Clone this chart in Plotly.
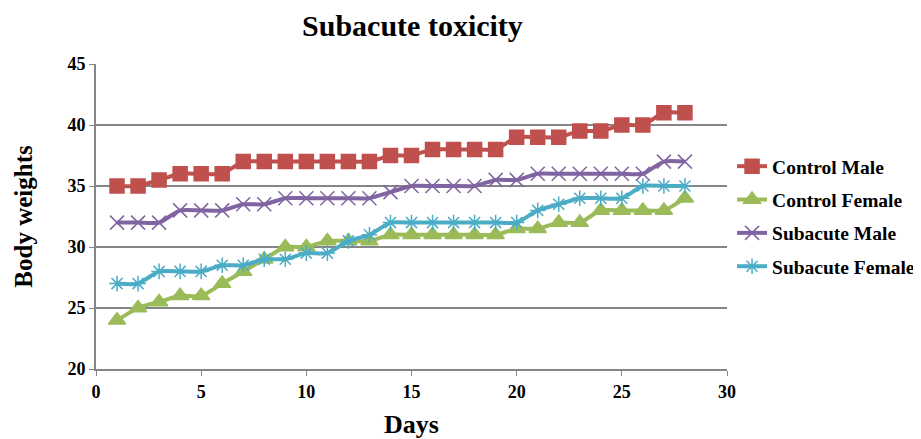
import plotly.graph_objects as go

days = list(range(1, 29))
control_male = [35, 35, 35.5, 36, 36, 36, 37, 37, 37, 37, 37, 37, 37, 37.5, 37.5, 38, 38, 38, 38, 39, 39, 39, 39.5, 39.5, 40, 40, 41, 41]
control_female = [24, 25, 25.5, 26, 26, 27, 28, 29, 30, 30, 30.5, 30.5, 30.5, 31, 31, 31, 31, 31, 31, 31.5, 31.5, 32, 32, 33, 33, 33, 33, 34]
subacute_male = [32, 32, 32, 33, 33, 33, 33.5, 33.5, 34, 34, 34, 34, 34, 34.5, 35, 35, 35, 35, 35.5, 35.5, 36, 36, 36, 36, 36, 36, 37, 37]
subacute_female = [27, 27, 28, 28, 28, 28.5, 28.5, 29, 29, 29.5, 29.5, 30.5, 31, 32, 32, 32, 32, 32, 32, 32, 33, 33.5, 34, 34, 34, 35, 35, 35]

series = [
    ("Control Male", control_male, "#C0504D", "square", 14),
    ("Control Female", control_female, "#9BBB59", "triangle-up", 15),
    ("Subacute Male", subacute_male, "#8064A2", "x-thin-open", 14),
    ("Subacute Female", subacute_female, "#4BACC6", "asterisk-open", 13),
]

FONT = "Liberation Serif"
fig = go.Figure()
for i, (name, vals, color, sym, sz) in enumerate(series):
    fig.add_trace(go.Scatter(
        x=days, y=vals, name="<b>%s</b>" % name, mode="lines+markers",
        line=dict(color=color, width=4, shape="spline", smoothing=0.6),
        marker=dict(symbol=sym, size=sz, color=color, line=dict(color=color, width=1.5)),
        legendgroup=f"g{i}",
    ))

fig.update_layout(
    width=913, height=431,
    margin=dict(l=88, r=194, t=56, b=70, autoexpand=False),
    paper_bgcolor="white", plot_bgcolor="white",
    title=dict(text="<b>Subacute toxicity</b>", x=0.443, xanchor="center", y=0.96, yanchor="middle",
               font=dict(family=FONT, size=30, color="black")),
    font=dict(family=FONT, color="black"),
    xaxis=dict(range=[0, 30], tickvals=[0, 5, 10, 15, 20, 25, 30], automargin=False,
               ticktext=["<b>%d</b>" % v for v in [0, 5, 10, 15, 20, 25, 30]],
               showgrid=False, zeroline=False, showline=True, linecolor="#868686", linewidth=2,
               ticks="outside", ticklen=5, tickcolor="#868686", tickfont=dict(family=FONT, size=18),
               title=dict(text="<b>Days</b>", font=dict(family=FONT, size=26), standoff=14)),
    yaxis=dict(range=[20, 45], tickvals=[20, 25, 30, 35, 40, 45], automargin=False,
               ticktext=["<b>%d</b>" % v for v in [20, 25, 30, 35, 40, 45]],
               showgrid=True, gridcolor="#868686", gridwidth=1.5, zeroline=False,
               showline=True, linecolor="#868686", linewidth=2,
               ticks="outside", ticklen=5, tickcolor="#868686", tickfont=dict(family=FONT, size=18),
               title=dict(text="<b>Body weights</b>", font=dict(family=FONT, size=25), standoff=28)),
    legend=dict(x=1.008, xanchor="left", y=0.5, yanchor="middle", traceorder="grouped",
                tracegroupgap=5, font=dict(family=FONT, size=19.5), bgcolor="rgba(0,0,0,0)"),
)

fig.write_html("out.html")
